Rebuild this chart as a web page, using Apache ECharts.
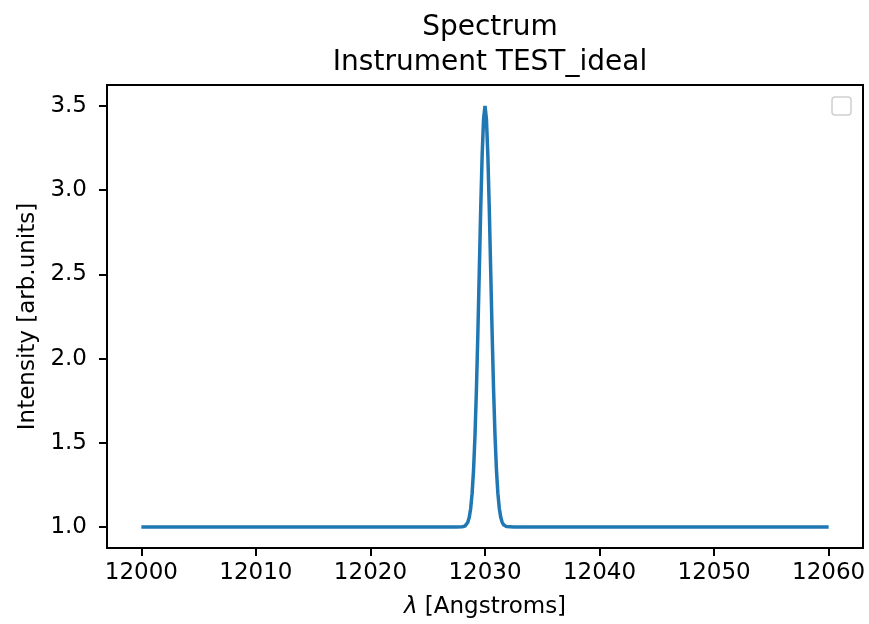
<!DOCTYPE html>
<html>
<head>
<meta charset="utf-8">
<script src="https://cdn.jsdelivr.net/npm/echarts@6/dist/echarts.min.js"></script>
<style>
html,body{margin:0;padding:0;background:#fff;}
#chart{width:869px;height:624px;}
</style>
</head>
<body>
<div id="chart"></div>
<script>
// Wavelength samples (Angstroms)
var wavelengths = [12000, 12010, 12020, 12027, 12027.5, 12028, 12028.125, 12028.25, 12028.375, 12028.5, 12028.625, 12028.75, 12028.875,
  12029, 12029.125, 12029.25, 12029.375, 12029.5, 12029.625, 12029.75, 12029.875, 12030,
  12030.125, 12030.25, 12030.375, 12030.5, 12030.625, 12030.75, 12030.875, 12031,
  12031.125, 12031.25, 12031.375, 12031.5, 12031.625, 12031.75, 12031.875, 12032, 12032.5, 12033, 12040, 12050, 12060];
// Intensity values
var intensity = [1.0, 1.0, 1.0, 1.0, 1.0, 1.001, 1.002, 1.005, 1.013, 1.028, 1.057, 1.11, 1.199,
  1.338, 1.541, 1.812, 2.145, 2.516, 2.887, 3.206, 3.423, 3.5,
  3.423, 3.206, 2.887, 2.516, 2.145, 1.812, 1.541, 1.338,
  1.199, 1.11, 1.057, 1.028, 1.013, 1.005, 1.002, 1.001, 1.0, 1.0, 1.0, 1.0, 1.0];
var xTicks = [12000, 12010, 12020, 12030, 12040, 12050, 12060];
var yTicks = [1.0, 1.5, 2.0, 2.5, 3.0, 3.5];
var titleLines = ['Spectrum', 'Instrument TEST_ideal'];
var xName = '[Angstroms]';
var yName = 'Intensity [arb.units]';

var seriesData = wavelengths.map(function (w, i) { return [w, intensity[i]]; });
var FONT = 'DejaVu Sans';
var TICK_FS = 23, NAME_FS = 23;
var chart = echarts.init(document.getElementById('chart'), null, {renderer: 'canvas'});
chart.setOption({
  animation: false,
  backgroundColor: '#fff',
  title: {
    text: titleLines.join('\n'),
    left: 485, top: 5, textAlign: 'center',
    textStyle: {fontFamily: FONT, fontSize: 28, fontWeight: 'normal', color: '#000', lineHeight: 35}
  },
  grid: {left: 107, right: 6, top: 85, bottom: 75, show: true, borderColor: '#000', borderWidth: 2, backgroundColor: 'transparent'},
  xAxis: {
    type: 'value', min: 11997, max: 12063,
    splitLine: {show: false},
    axisLine: {show: true, onZero: false, lineStyle: {color: '#000', width: 2}},
    axisTick: {show: true, length: 8, lineStyle: {color: '#000', width: 2}, customValues: xTicks},
    axisLabel: {margin: 14, color: '#000', fontFamily: FONT, fontSize: TICK_FS, customValues: xTicks,
      formatter: function (v) { return String(v); }},
    name: '{l|λ} ' + xName, nameLocation: 'middle', nameGap: 48,
    nameTextStyle: {fontFamily: FONT, fontSize: NAME_FS, color: '#000',
      rich: {l: {fontFamily: FONT, fontStyle: 'italic', fontSize: NAME_FS, color: '#000'}}}
  },
  yAxis: {
    type: 'value', min: 0.875, max: 3.625,
    splitLine: {show: false},
    axisLine: {show: true, onZero: false, lineStyle: {color: '#000', width: 2}},
    axisTick: {show: true, length: 8, lineStyle: {color: '#000', width: 2}, customValues: yTicks},
    axisLabel: {margin: 20, color: '#000', fontFamily: FONT, fontSize: TICK_FS, customValues: yTicks,
      formatter: function (v) { return Number(v).toFixed(1); }},
    name: yName, nameLocation: 'middle', nameGap: 67, nameRotate: 90,
    nameTextStyle: {fontFamily: FONT, fontSize: NAME_FS, color: '#000'}
  },
  series: [{
    type: 'line', data: seriesData, showSymbol: false, smooth: false,
    lineStyle: {color: '#1f77b4', width: 3.5}, itemStyle: {color: '#1f77b4'}
  }],
  graphic: [{
    type: 'rect', shape: {x: 832, y: 97, width: 19, height: 18, r: 3},
    style: {fill: '#fff', stroke: '#d0d0d0', lineWidth: 1.5}
  }]
});
</script>
</body>
</html>
